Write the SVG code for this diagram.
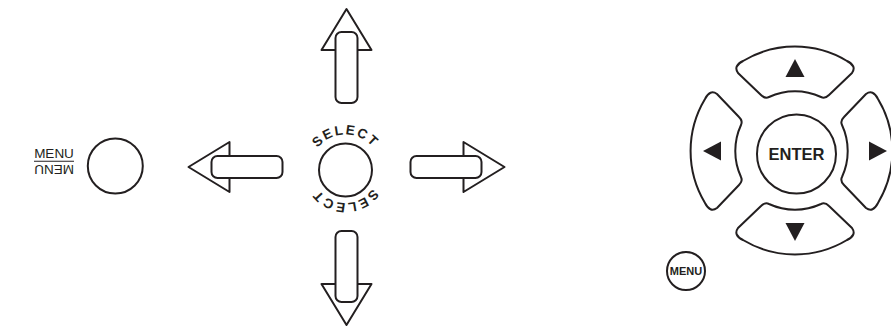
<svg xmlns="http://www.w3.org/2000/svg" width="891" height="326" viewBox="0 0 891 326">
<style>
.wf{fill:#fff;stroke:#231f20;stroke-width:2;stroke-linejoin:round}
.ln{fill:none;stroke:#231f20;stroke-width:1.2}
.tri{fill:#231f20;stroke:none}
.lbl{font-family:"Liberation Sans",Arial,sans-serif;fill:#231f20}
.sel{font-family:"Liberation Sans",Arial,sans-serif;font-weight:bold;font-size:13.5px;letter-spacing:1.8px;fill:#231f20}
</style>
<defs>
<g id="arrowUp">
<polygon class="wf" points="346.5,9 371.5,50 321.5,50"/>
<rect class="wf" x="335.5" y="32" width="22" height="71" rx="6"/>
</g>
<path id="selTop" d="M 310,170 A 35.5 35.5 0 0 1 381,170"/>
<path id="selBot" d="M 378.5,170 A 33 33 0 0 1 312.5,170"/>
<path id="dpadBtn" d="M 743,61 A 101 101 0 0 1 847,61 Q 857,66 852,73 L 829,95 Q 825,99 821,97 A 62 62 0 0 0 769,97 Q 765,99 761,95 L 738,73 Q 733,66 743,61 Z"/>
</defs>

<g id="menu-label">
<text class="lbl" x="54" y="158" font-size="13.5" text-anchor="middle">MENU</text>
<line class="ln" x1="34" y1="161.25" x2="74" y2="161.25"/>
<text class="lbl" x="54" y="158" font-size="13.5" text-anchor="middle" transform="rotate(180 54 161.25)">MENU</text>
</g>

<g id="menu-button">
<circle class="wf" cx="115.3" cy="166" r="27.5"/>
</g>

<g id="connectors">
<g id="arrow-up"><use href="#arrowUp"/></g>
<g id="arrow-right"><use href="#arrowUp" transform="rotate(90 346.5 167)"/></g>
<g id="arrow-down"><use href="#arrowUp" transform="rotate(180 346.5 167)"/></g>
<g id="arrow-left"><use href="#arrowUp" transform="rotate(270 346.5 167)"/></g>
</g>

<g id="select-button">
<circle class="wf" cx="345.5" cy="170" r="26.5"/>
<text class="sel"><textPath href="#selTop" startOffset="50%" text-anchor="middle">SELECT</textPath></text>
<text class="sel"><textPath href="#selBot" startOffset="50%" text-anchor="middle">SELECT</textPath></text>
</g>

<g id="dpad-up">
<use href="#dpadBtn" class="wf"/>
<polygon class="tri" points="795,59 804.5,77 785.5,77"/>
</g>
<g id="dpad-down">
<use href="#dpadBtn" class="wf" transform="matrix(1 0 0 -1 0 301)"/>
<polygon class="tri" points="795,241 785.5,223 804.5,223"/>
</g>
<g id="dpad-left">
<use href="#dpadBtn" class="wf" transform="rotate(-90 795 151)"/>
<polygon class="tri" points="703,151 721,141.5 721,160.5"/>
</g>
<g id="dpad-right">
<use href="#dpadBtn" class="wf" transform="translate(-7 0) rotate(90 795 151)"/>
<polygon class="tri" points="887,151 869,141.5 869,160.5"/>
</g>

<g id="enter-button">
<circle class="wf" cx="796.5" cy="154" r="39.5"/>
<text class="lbl" x="796.5" y="160" font-size="16.5" font-weight="bold" text-anchor="middle">ENTER</text>
</g>

<g id="menu-button-small">
<circle class="wf" cx="686" cy="271" r="19"/>
<text class="lbl" x="686" y="275" font-size="11" font-weight="bold" text-anchor="middle">MENU</text>
</g>
</svg>
